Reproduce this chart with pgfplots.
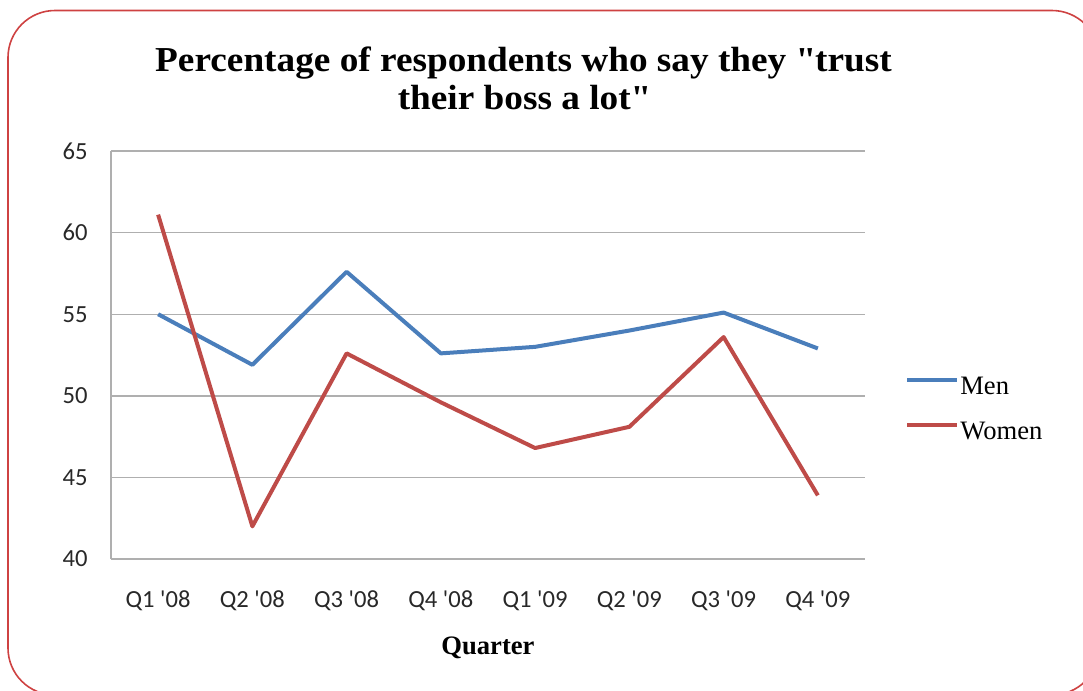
\documentclass[border=0pt]{standalone}
\usepackage{fontspec}
\setmainfont{Liberation Serif}
\newfontfamily\calibri{Carlito}
\newfontfamily\titlefont[FakeStretch=1.065]{Liberation Serif}
\usepackage{pgfplots}
\usepackage{pgfplotstable}
\pgfplotsset{compat=1.18}

\definecolor{menblue}{RGB}{74,126,187}
\definecolor{womenred}{RGB}{190,75,72}
\definecolor{framered}{RGB}{206,66,66}
\definecolor{gridgray}{RGB}{175,175,175}
\definecolor{labelgray}{RGB}{40,40,40}

% quarter index, men, women
\pgfplotstableread{
idx men women
0 55.0 61.1
1 51.9 42.0
2 57.6 52.6
3 52.6 49.6
4 53.0 46.8
5 54.0 48.1
6 55.1 53.6
7 52.9 43.9
}\trust

\begin{document}
\begin{tikzpicture}
\useasboundingbox (0,0) rectangle (541.5pt,-345.5pt);
\begin{scope}
  \clip (0,0) rectangle (541.5pt,-345.5pt);
  \draw[framered, line width=0.8pt, rounded corners=23.5pt]
    (4pt,-5.25pt) rectangle (549.5pt,-347.5pt);
\end{scope}

\node[font=\titlefont\bfseries\fontsize{17.5}{20}\selectfont, anchor=base]
  at (261.75pt,-35.5pt) {Percentage of respondents who say they \textquotedbl trust};
\node[font=\titlefont\bfseries\fontsize{17.5}{20}\selectfont, anchor=base]
  at (262pt,-54.5pt) {their boss a lot\textquotedbl};

\begin{axis}[
  at={(55.5pt,-279.5pt)}, anchor=south west,
  scale only axis, width=377pt, height=204pt,
  xmin=-0.5, xmax=7.5, ymin=40, ymax=65,
  xtick={0,...,7},
  xticklabels={{Q1 \textquotesingle08},{Q2 \textquotesingle08},{Q3 \textquotesingle08},{Q4 \textquotesingle08},
               {Q1 \textquotesingle09},{Q2 \textquotesingle09},{Q3 \textquotesingle09},{Q4 \textquotesingle09}},
  ytick={40,45,...,65},
  axis lines*=left,
  axis line style={draw=gridgray, line width=0.7pt, -},
  ymajorgrids,
  grid style={draw=gridgray, line width=0.7pt},
  major tick length=0pt, tick style={draw=none},
  /pgf/number format/assume math mode=true,
  ticklabel style={font=\calibri\fontsize{12.3}{14}\selectfont, text=labelgray, inner sep=0pt},
  yticklabel style={anchor=east, xshift=-11.5pt},
  xticklabel style={anchor=base, yshift=-24pt},
  xlabel={Quarter},
  xlabel style={font=\bfseries\fontsize{13.3}{15}\selectfont,
    at={(axis description cs:0.5,0)}, anchor=base, yshift=-47.5pt},
  legend style={draw=none, fill=none, at={(1.053,0.366)}, anchor=west,
    font=\fontsize{13.3}{15}\selectfont, inner sep=0pt, column sep=0.5pt, row sep=12pt,
    nodes={inner sep=0pt}},
  legend cell align=left,
  legend image code/.code={\draw[#1] (0pt,3.5pt) -- (25pt,3.5pt);},
]
\addplot[menblue, line width=2pt, line join=round] table[x=idx, y=men] {\trust};
\addlegendentry{Men}
\addplot[womenred, line width=2pt, line join=round] table[x=idx, y=women] {\trust};
\addlegendentry{Women}
\end{axis}
\end{tikzpicture}
\end{document}
